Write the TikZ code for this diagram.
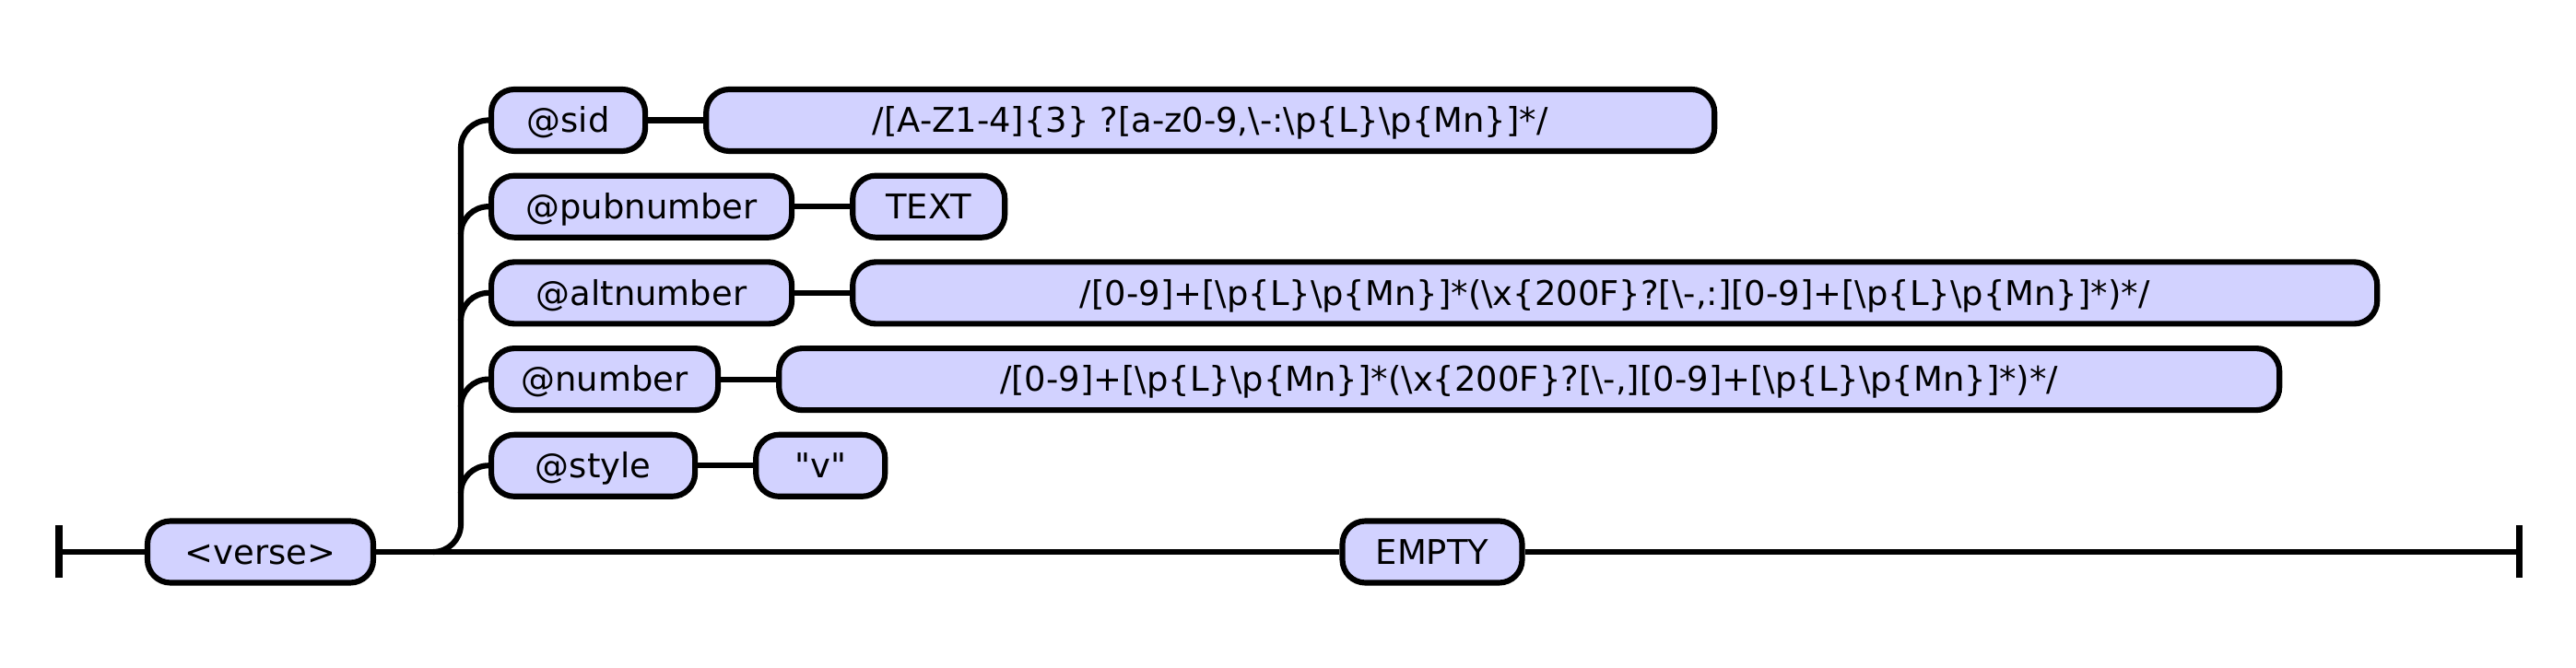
\documentclass[tikz,border=0pt]{standalone}
\usepackage{fontspec}
\setmainfont{DejaVu Sans}
\usetikzlibrary{positioning}
\definecolor{boxfill}{HTML}{D2D2FF}

\begin{document}
\begin{tikzpicture}[node distance=6mm, every node/.style={font=\fontsize{10.5}{12.6}\selectfont}, term/.style={draw,line width=1.75pt,rounded corners=2.5mm,fill=boxfill,inner sep=0pt,minimum height=6.7mm,text height=8.5pt,text depth=0.9pt}, rail/.style={line width=1.75pt,rounded corners=3mm}]
\useasboundingbox (0,0) rectangle (27.95,7.25);
\coordinate (start) at (0.64,1.26);
\coordinate (finish) at (27.33,1.26);
\coordinate (split) at (4.71,1.26);
\node[term,minimum width=24.5mm] (verse) at (2.825,1.26) {<verse>};
\node[term,minimum width=19.5mm] (empty) at (15.54,1.26) {EMPTY};
\node[term,minimum width=16.7mm,anchor=west] (sid) at (5.30,5.945) {@sid};
\node[term,minimum width=109.4mm,right=of sid] (sidre) {/[A-Z1-4]\{3\} ?[a-z0-9,\textbackslash-:\textbackslash p\{L\}\textbackslash p\{Mn\}]*/};
\node[term,minimum width=32.6mm,anchor=west] (pub) at (5.30,5.008) {@pubnumber};
\node[term,minimum width=16.5mm,right=of pub] (text) {TEXT};
\node[term,minimum width=32.6mm,anchor=west] (alt) at (5.30,4.071) {@altnumber};
\node[term,minimum width=165.4mm,right=of alt] (altre) {/[0-9]+[\textbackslash p\{L\}\textbackslash p\{Mn\}]*(\textbackslash x\{200F\}?[\textbackslash-,:][0-9]+[\textbackslash p\{L\}\textbackslash p\{Mn\}]*)*/};
\node[term,minimum width=24.6mm,anchor=west] (num) at (5.30,3.134) {@number};
\node[term,minimum width=162.8mm,right=of num] (numre) {/[0-9]+[\textbackslash p\{L\}\textbackslash p\{Mn\}]*(\textbackslash x\{200F\}?[\textbackslash-,][0-9]+[\textbackslash p\{L\}\textbackslash p\{Mn\}]*)*/};
\node[term,minimum width=22.1mm,anchor=west] (style) at (5.30,2.197) {@style};
\node[term,minimum width=14.0mm,right=of style] (v) {\textquotedbl v\textquotedbl};
% end bars
\draw[line width=2pt] ([yshift=-2.85mm]start) -- ([yshift=2.85mm]start);
\draw[line width=2pt] ([yshift=-2.85mm]finish) -- ([yshift=2.85mm]finish);
% main line
\draw[rail] (start) -- (verse);
\draw[rail] (verse) -- (empty);
\draw[rail] (empty) -- (finish);
% attribute branches
\draw[rail] (split) -| ([xshift=-3mm]sid.west) -- (sid.west);
\draw[rail] ([xshift=-3mm,yshift=-3mm]pub.west) |- (pub.west);
\draw[rail] ([xshift=-3mm,yshift=-3mm]alt.west) |- (alt.west);
\draw[rail] ([xshift=-3mm,yshift=-3mm]num.west) |- (num.west);
\draw[rail] ([xshift=-3mm,yshift=-3mm]style.west) |- (style.west);
\draw[rail] (sid) -- (sidre);
\draw[rail] (pub) -- (text);
\draw[rail] (alt) -- (altre);
\draw[rail] (num) -- (numre);
\draw[rail] (style) -- (v);
\end{tikzpicture}
\end{document}
